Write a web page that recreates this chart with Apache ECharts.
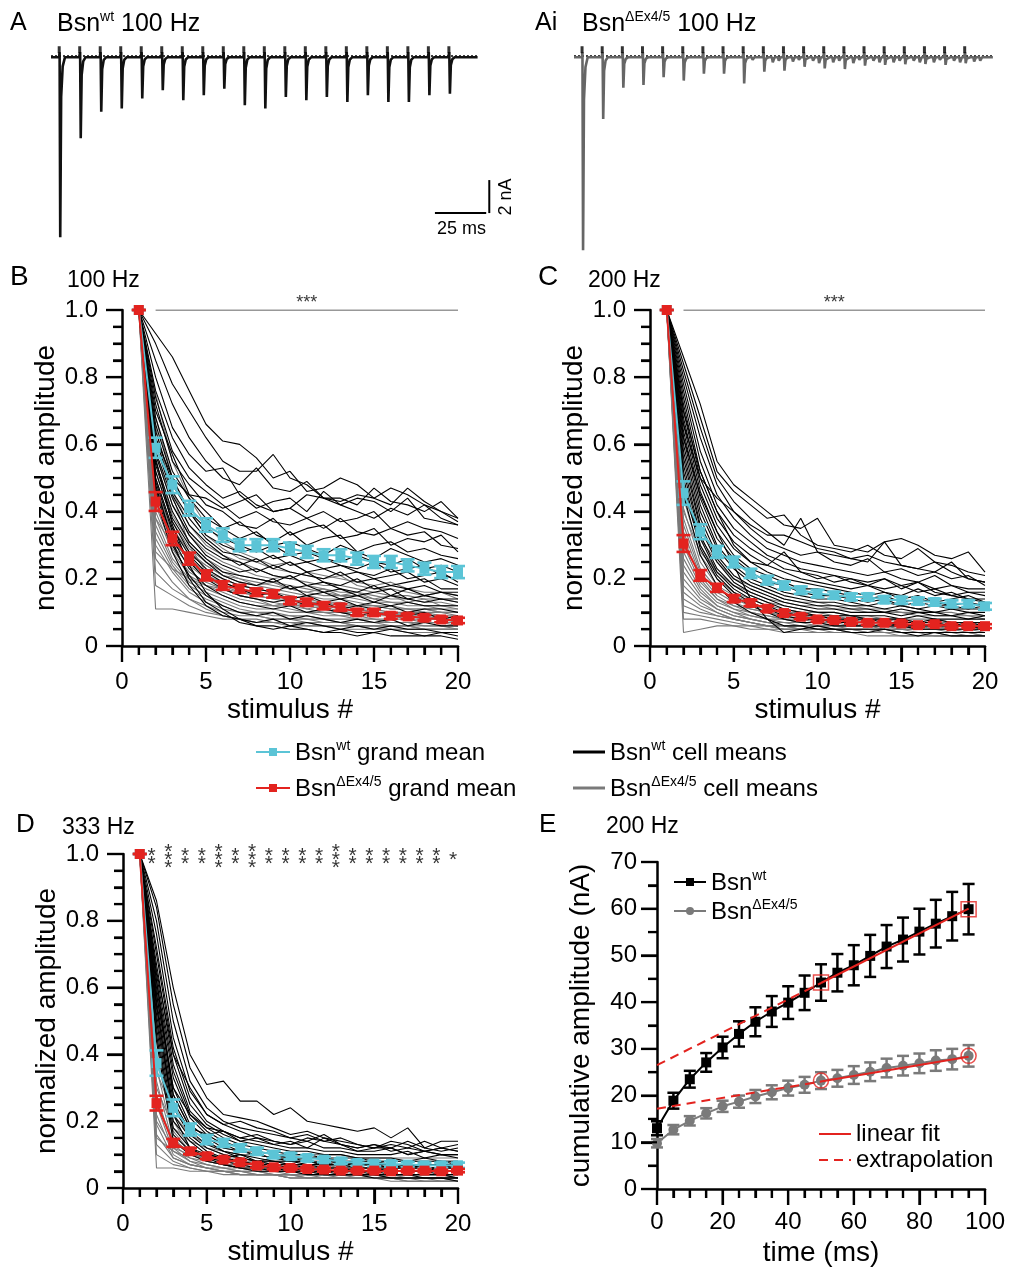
<!DOCTYPE html>
<html><head><meta charset="utf-8">
<script src="https://cdn.jsdelivr.net/npm/echarts@6/dist/echarts.min.js"></script>
<style>html,body{margin:0;padding:0;background:#fff}#c{width:1009px;height:1272px}</style>
</head><body><div id="c"></div>
<script>
// ---------------- DATA ----------------
const stimulus = [1,2,3,4,5,6,7,8,9,10,11,12,13,14,15,16,17,18,19,20];
const yTickLabels = ['0','0.2','0.4','0.6','0.8','1.0'];

// Panel A / Ai example traces (100 Hz): stimulus times (ms), EPSC amplitudes (nA)
const stimTimesMs = [0,10,20,30,40,50,60,70,80,90,100,110,120,130,140,150,160,170,180,190];
const ampA  = [10.9,4.9,3.3,3.1,2.5,2.0,2.6,2.3,1.9,2.9,3.1,2.4,2.6,2.4,2.7,2.3,2.7,2.7,2.3,2.2];
const ampAi = [11.7,3.74,1.84,1.68,1.21,1.41,0.99,0.99,1.58,0.87,0.81,0.57,0.67,0.71,0.5,0.46,0.42,0.4,0.46,0.36];
const asyncAi = [[0,0],[0,0],[0,0],[0,0],[0,0],[0,0],[0.1,0],[0,0.1],[0.15,0.1],[0.3,0.2],[0.25,0.15],[0.2,0.35],[0.3,0.2],[0.35,0.15],[0.2,0.3],[0.3,0.2],[0.2,0.3],[0.3,0.15],[0.2,0.3],[0.25,0.2]];
const scaleBarMs = 25, scaleBarNA = 2;

// Panel B (100 Hz) grand means
const meanB_wt = [1.00,0.59,0.48,0.41,0.36,0.33,0.30,0.30,0.30,0.29,0.28,0.27,0.27,0.26,0.25,0.25,0.24,0.23,0.22,0.22];
const semB_wt  = [0,0.03,0.025,0.022,0.02,0.02,0.018,0.018,0.018,0.018,0.018,0.018,0.018,0.018,0.018,0.018,0.018,0.018,0.018,0.018];
const meanB_ko = [1.00,0.43,0.32,0.26,0.21,0.18,0.17,0.16,0.155,0.135,0.13,0.12,0.115,0.10,0.10,0.09,0.088,0.084,0.079,0.076];
const semB_ko  = [0,0.028,0.02,0.018,0.015,0.013,0.012,0.011,0.011,0.01,0.01,0.01,0.01,0.009,0.009,0.009,0.008,0.008,0.008,0.008];
// Panel C (200 Hz)
const meanC_wt = [1.00,0.455,0.34,0.28,0.25,0.216,0.196,0.18,0.166,0.156,0.151,0.146,0.146,0.138,0.136,0.134,0.131,0.126,0.126,0.118];
const semC_wt  = [0,0.035,0.022,0.018,0.016,0.014,0.013,0.012,0.011,0.011,0.01,0.01,0.01,0.01,0.01,0.01,0.01,0.01,0.01,0.01];
const meanC_ko = [1.00,0.305,0.21,0.173,0.141,0.128,0.111,0.098,0.087,0.079,0.077,0.072,0.069,0.069,0.067,0.062,0.065,0.059,0.059,0.059];
const semC_ko  = [0,0.025,0.016,0.012,0.01,0.009,0.008,0.007,0.007,0.006,0.006,0.006,0.006,0.006,0.006,0.006,0.006,0.006,0.006,0.006];
// Panel D (333 Hz)
const meanD_wt = [1.00,0.374,0.24,0.175,0.145,0.135,0.12,0.11,0.10,0.095,0.09,0.085,0.08,0.075,0.073,0.072,0.07,0.068,0.068,0.068];
const semD_wt  = [0,0.038,0.025,0.018,0.014,0.012,0.011,0.01,0.01,0.009,0.009,0.008,0.008,0.008,0.008,0.008,0.008,0.008,0.008,0.008];
const meanD_ko = [1.00,0.254,0.135,0.11,0.095,0.085,0.077,0.067,0.062,0.06,0.057,0.055,0.052,0.052,0.052,0.05,0.052,0.052,0.05,0.052];
const semD_ko  = [0,0.022,0.012,0.009,0.008,0.007,0.006,0.006,0.006,0.006,0.006,0.006,0.005,0.005,0.005,0.005,0.005,0.005,0.005,0.005];

const sigBC = {from: 2, to: 20, mid: 11, text: '***'};
const starsD = ['**','***','**','**','***','**','***','**','**','**','**','***','**','**','**','**','**','**','*']; // stim 2..20

// Cell means (normalized amplitude x100)
const cellsB_wt = [
[100,93,86,76,66,61,60,56,50,52,46,47,50,48,44,47,45,42,40,38],
[100,90,78,70,62,55,52,52,57,50,48,44,43,45,44,42,47,43,40,37],
[100,85,72,62,55,50,48,53,47,46,49,44,44,42,47,43,42,40,43,38],
[100,80,65,57,52,53,45,41,43,44,40,46,42,40,38,41,39,42,38,36],
[100,76,62,53,48,44,46,42,40,41,38,40,37,38,40,35,37,35,34,32],
[100,74,58,50,46,42,38,40,37,36,38,35,38,34,33,35,33,34,30,29],
[100,72,55,48,42,40,36,35,38,33,35,36,32,33,35,30,32,31,33,28],
[100,70,57,45,40,35,37,33,31,34,30,32,33,28,30,31,28,29,27,26],
[100,68,52,44,38,35,32,34,30,31,29,27,30,28,26,29,27,25,26,24],
[100,66,50,40,35,32,30,28,30,27,28,26,25,27,25,24,26,23,24,22],
[100,64,48,40,33,30,28,29,26,27,25,26,24,23,25,22,23,24,21,20],
[100,62,46,38,32,28,27,25,27,24,25,23,24,22,21,23,20,21,22,19],
[100,60,45,36,31,27,24,26,23,25,22,23,21,22,20,21,22,19,20,18],
[100,58,44,34,29,26,25,22,24,22,21,20,22,19,20,18,19,20,17,17],
[100,57,42,33,27,24,22,23,21,20,22,19,18,20,17,18,17,18,16,16],
[100,55,40,31,26,22,21,20,19,21,18,19,17,16,18,15,17,15,16,15],
[100,54,38,30,25,21,19,18,20,17,18,16,17,15,16,17,14,15,14,14],
[100,52,37,28,23,20,18,17,16,18,15,16,14,15,13,15,14,13,14,13],
[100,50,35,27,22,19,17,15,16,14,15,13,14,12,13,12,13,12,12,12],
[100,49,34,25,20,17,15,14,13,14,12,13,11,12,11,12,10,11,11,10],
[100,47,32,23,18,15,13,12,11,12,10,11,10,9,10,9,9,10,8,9],
[100,46,30,21,15,12,10,9,10,8,9,8,7,8,7,8,6,7,6,6],
[100,44,28,18,12,9,8,7,8,6,7,6,5,6,5,6,5,5,4,4],
[100,48,31,20,13,10,7,6,5,6,5,4,5,4,4,5,4,3,4,3],
[100,56,36,24,16,11,8,6,6,5,5,4,4,3,4,3,3,3,3,2],
[100,62,50,45,44,41,43,45,40,41,45,44,42,44,43,40,44,38,37,36]
];
const cellsB_ko = [
[100,75,55,44,36,31,28,26,24,25,22,21,20,19,18,19,17,16,16,15],
[100,68,50,40,33,29,26,25,23,22,21,20,21,18,17,17,16,15,16,14],
[100,62,46,36,30,27,25,23,21,20,19,18,18,17,16,15,15,14,14,13],
[100,58,42,33,28,25,23,21,20,21,18,17,16,16,15,14,14,13,13,12],
[100,55,39,31,26,23,21,20,19,18,17,16,15,15,14,13,13,12,12,11],
[100,52,37,29,25,22,20,19,18,17,16,15,15,14,13,13,12,12,11,11],
[100,50,35,28,24,21,19,18,17,16,15,14,14,13,12,12,11,11,10,10],
[100,48,33,26,22,20,18,17,16,15,14,13,13,12,12,11,11,10,10,9],
[100,46,32,25,21,19,17,16,15,14,13,13,12,11,11,10,10,10,9,9],
[100,44,30,24,20,18,16,15,14,13,12,12,11,11,10,10,9,9,9,8],
[100,42,29,22,19,17,15,14,13,12,12,11,10,10,10,9,9,8,8,8],
[100,40,28,21,18,16,14,13,12,12,11,10,10,9,9,9,8,8,8,7],
[100,38,26,20,17,15,13,12,12,11,10,10,9,9,8,8,8,7,7,7],
[100,36,25,19,16,14,12,11,11,10,10,9,9,8,8,7,7,7,7,6],
[100,34,24,18,15,13,11,10,10,9,9,8,8,8,7,7,7,6,6,6],
[100,32,23,17,14,12,10,10,9,9,8,8,7,7,7,6,6,6,6,5],
[100,30,22,16,13,11,10,9,8,8,8,7,7,6,6,6,6,5,5,5],
[100,28,23,20,18,17,16,15,14,14,13,13,12,12,12,11,11,11,10,10],
[100,26,19,14,11,9,8,7,7,6,6,6,5,5,5,5,4,4,4,4],
[100,22,17,14,12,10,9,9,8,8,7,7,7,6,6,6,6,5,5,5],
[100,18,15,12,10,9,8,8,7,7,7,6,6,6,6,5,5,5,5,5],
[100,11,11,10,9,8,8,7,7,7,6,6,6,6,5,5,5,5,5,5],
[100,65,45,30,22,17,15,14,12,13,11,12,10,11,10,9,10,9,8,9],
[100,38,30,27,24,21,20,18,19,17,16,17,15,16,14,15,13,14,12,12]
];
const cellsC_wt = [
[100,86,72,55,48,44,40,36,35,38,30,29,28,31,32,30,27,26,28,22],
[100,84,68,52,46,42,38,39,33,30,29,28,30,27,26,29,25,24,22,21],
[100,82,65,50,43,38,34,30,38,28,27,26,25,31,24,23,22,25,20,19],
[100,80,62,48,40,35,31,29,27,28,25,24,26,22,23,21,22,20,21,18],
[100,78,58,45,38,33,29,27,25,24,23,22,21,22,20,19,21,18,17,17],
[100,76,55,42,35,31,27,25,23,22,21,20,19,20,18,19,17,18,16,16],
[100,74,52,40,33,29,26,23,22,21,19,20,18,17,18,16,17,15,16,15],
[100,72,50,38,31,27,24,22,20,19,18,17,18,16,15,17,15,16,14,14],
[100,70,48,36,29,25,22,20,19,18,17,16,15,16,14,15,13,14,15,13],
[100,68,46,34,27,23,21,19,17,17,16,15,14,15,13,14,13,12,13,12],
[100,66,44,32,26,22,19,18,16,15,15,14,13,14,12,13,12,12,11,12],
[100,64,42,30,24,20,18,16,15,14,14,13,12,13,12,11,12,11,11,11],
[100,62,40,29,23,19,17,15,14,13,13,12,12,11,12,11,10,11,10,10],
[100,60,38,27,21,18,16,14,13,12,12,11,11,10,11,10,10,9,10,9],
[100,58,36,26,20,17,15,13,12,11,11,10,10,10,9,10,9,9,8,9],
[100,56,35,25,19,16,14,12,11,10,10,9,9,9,8,9,8,8,8,8],
[100,54,33,23,18,15,13,11,10,9,9,9,8,8,8,7,8,7,7,7],
[100,52,32,22,17,14,12,10,9,9,8,8,8,7,7,7,7,6,7,6],
[100,50,30,21,16,13,11,9,8,8,7,7,7,7,6,6,6,6,6,5],
[100,48,29,20,15,12,10,8,7,7,6,6,6,6,6,5,5,5,5,5],
[100,45,27,18,13,10,8,6,6,5,5,5,5,5,4,4,4,4,4,4],
[100,62,45,34,24,14,8,4,5,6,5,4,4,5,4,3,4,3,3,3],
[100,70,52,40,30,25,24,28,22,20,21,19,18,20,17,19,16,15,14,13],
[100,66,50,44,40,36,33,33,31,29,28,26,27,25,24,23,25,22,20,19]
];
const cellsC_ko = [
[100,48,30,22,18,15,13,12,11,10,10,9,9,8,8,8,8,7,7,7],
[100,44,27,20,16,14,12,11,10,10,9,9,8,8,8,7,7,7,7,6],
[100,41,25,18,15,13,11,10,10,9,9,8,8,8,7,7,7,6,6,6],
[100,38,23,17,14,12,11,10,9,9,8,8,7,7,7,7,6,6,6,6],
[100,36,22,16,13,11,10,9,9,8,8,7,7,7,6,6,6,6,6,5],
[100,34,21,15,12,11,10,9,8,8,7,7,7,6,6,6,6,5,5,5],
[100,32,20,14,12,10,9,8,8,7,7,7,6,6,6,6,5,5,5,5],
[100,30,19,14,11,10,9,8,7,7,7,6,6,6,6,5,5,5,5,5],
[100,28,18,13,11,9,8,8,7,7,6,6,6,6,5,5,5,5,5,4],
[100,26,17,12,10,9,8,7,7,6,6,6,6,5,5,5,5,5,4,4],
[100,24,16,12,10,8,7,7,6,6,6,5,5,5,5,5,5,4,4,4],
[100,22,15,11,9,8,7,6,6,6,5,5,5,5,5,4,4,4,4,4],
[100,20,14,11,9,8,7,6,6,5,5,5,5,4,4,4,4,4,4,4],
[100,18,13,10,8,7,6,6,5,5,5,5,4,4,4,4,4,4,4,3],
[100,16,12,10,8,7,6,5,5,5,5,4,4,4,4,4,4,3,3,3],
[100,14,11,9,8,7,6,5,5,5,4,4,4,4,4,4,3,3,3,3],
[100,12,10,9,8,7,6,6,5,5,5,5,4,4,4,4,4,4,3,3],
[100,10,9,8,7,6,6,5,5,5,5,4,4,4,4,4,4,4,4,3],
[100,8,8,7,6,6,5,5,5,4,4,4,4,4,3,3,3,3,3,3],
[100,4,5,6,6,5,5,4,4,4,4,4,3,3,3,3,3,3,3,3],
[100,40,28,22,18,16,14,13,12,12,11,11,10,10,10,9,9,9,9,8],
[100,45,32,25,20,18,16,14,13,13,12,12,11,11,10,10,10,10,9,9]
];
const cellsD_wt = [
[100,86,60,40,31,32,26,26,22,24,20,19,18,17,18,15,18,12,14,14],
[100,84,55,36,27,22,21,20,18,16,17,15,14,13,12,13,12,14,12,13],
[100,80,50,32,24,20,18,17,16,15,14,16,13,12,13,11,12,11,12,11],
[100,76,45,29,22,19,17,15,14,13,14,12,12,11,11,12,10,11,10,10],
[100,72,42,27,20,17,15,14,13,12,12,11,11,10,10,10,11,9,10,9],
[100,70,40,25,19,16,14,13,12,11,11,10,10,9,9,9,8,9,8,8],
[100,67,37,23,18,15,13,12,11,10,10,9,9,9,8,8,8,8,8,7],
[100,64,35,22,17,14,12,11,10,9,9,9,8,8,8,7,7,7,7,7],
[100,62,33,21,16,13,11,10,9,9,8,8,8,7,7,7,7,6,6,6],
[100,60,30,19,15,12,11,10,9,8,8,7,7,7,7,6,6,6,6,6],
[100,58,28,18,14,11,10,9,8,8,7,7,7,6,6,6,6,6,5,5],
[100,56,26,17,13,11,9,8,8,7,7,6,6,6,6,5,5,5,5,5],
[100,54,24,16,12,10,9,8,7,7,6,6,6,5,5,5,5,5,4,4],
[100,52,22,15,11,9,8,7,7,6,6,5,5,5,5,4,4,4,4,4],
[100,50,20,14,10,9,8,7,6,6,5,5,5,5,4,4,4,4,4,3],
[100,48,18,12,9,8,7,6,6,5,5,5,4,4,4,4,4,3,3,3],
[100,46,16,11,9,7,6,6,5,5,5,4,4,4,4,3,3,3,3,3],
[100,44,14,10,8,7,6,5,5,5,4,4,4,4,3,3,3,3,3,2],
[100,58,30,22,18,17,15,16,14,13,15,14,13,12,13,12,14,12,11,12],
[100,65,40,30,22,19,20,18,17,15,16,14,15,13,12,14,13,11,12,11],
[100,55,22,12,10,9,10,8,9,8,8,7,8,7,7,6,7,6,6,7],
[100,62,28,18,16,17,14,15,13,14,12,15,13,11,12,12,10,11,10,10]
];
const cellsD_ko = [
[100,45,20,12,9,8,7,6,6,5,5,5,5,4,4,4,4,4,4,3],
[100,40,17,11,8,7,6,6,5,5,5,4,4,4,4,4,3,3,3,3],
[100,36,15,10,8,7,6,5,5,5,4,4,4,4,4,3,3,3,3,3],
[100,32,13,9,7,6,6,5,5,4,4,4,4,4,3,3,3,3,3,3],
[100,28,12,8,7,6,5,5,4,4,4,4,4,3,3,3,3,3,3,3],
[100,25,11,8,6,6,5,5,4,4,4,4,3,3,3,3,3,3,3,2],
[100,22,10,7,6,5,5,4,4,4,4,3,3,3,3,3,3,3,2,2],
[100,19,9,7,6,5,5,4,4,4,3,3,3,3,3,3,3,2,2,2],
[100,16,9,7,6,5,4,4,4,4,3,3,3,3,3,3,2,2,2,2],
[100,13,8,6,5,5,4,4,4,3,3,3,3,3,3,2,2,2,2,2],
[100,10,7,6,5,5,4,4,4,3,3,3,3,3,3,3,2,2,2,2],
[100,6,6,5,5,4,4,4,4,3,3,3,3,3,3,3,3,3,3,3],
[100,30,18,14,12,11,10,10,9,9,9,9,8,8,8,8,8,8,8,8],
[100,35,22,16,13,12,11,11,10,10,10,10,10,9,9,9,9,9,9,9],
[100,26,14,11,10,9,9,8,8,8,8,7,7,7,7,7,7,7,7,7],
[100,50,25,16,12,10,9,8,8,7,7,7,6,6,6,6,6,6,6,6],
[100,20,12,10,9,8,8,8,7,7,7,7,7,6,6,6,6,6,6,6],
[100,15,11,9,8,7,7,7,6,6,6,6,6,5,5,5,5,5,5,5]
];

// Panel E (200 Hz) cumulative amplitude
const timesE = [0,5,10,15,20,25,30,35,40,45,50,55,60,65,70,75,80,85,90,95];
const cumWt = [13.0,18.9,23.5,27.1,30.3,33.2,35.8,38.0,39.9,42.0,44.2,46.3,47.9,49.9,51.9,53.4,55.1,56.8,58.4,59.9];
const semCumWt = [1.5,1.7,1.8,2.0,2.3,2.7,3.1,3.3,3.5,3.7,3.9,4.0,4.3,4.5,4.6,4.7,4.9,5.1,5.2,5.4];
const cumKo = [9.8,12.7,14.6,16.2,17.7,18.7,19.8,20.7,21.6,22.3,23.2,23.7,24.4,25.1,25.9,26.4,26.9,27.5,27.8,28.5];
const semCumKo = [0.9,1.0,1.0,1.1,1.2,1.3,1.4,1.5,1.6,1.7,1.8,1.8,1.9,2.0,2.0,2.1,2.1,2.2,2.2,2.3];
const fitTimes = [0,50,95];
const fitWt = [26.5,44.1,60.0];
const fitKo = [17.2,23.0,28.3];

// ---------------- STYLE ----------------
const F = '"Liberation Sans", Arial, Helvetica, sans-serif';
const BLUE = '#5BC4D6', RED = '#E3231F', GRAY = '#7a7a7a';

const chart = echarts.init(document.getElementById('c'), null, {renderer:'canvas'});

const grids = [
  {left:51, top:40, width:443, height:212},   // A
  {left:574, top:40, width:443, height:212},  // Ai
  {left:122, top:310, width:336, height:336}, // B
  {left:650, top:310, width:335, height:336}, // C
  {left:123, top:854, width:335, height:334}, // D
  {left:657, top:862, width:328, height:327}  // E
];

const axisBase = {
  axisLine:{show:true, onZero:false, lineStyle:{color:'#000', width:2.5}},
  axisTick:{show:true, inside:false, length:16, lineStyle:{color:'#000', width:2.2}},
  splitLine:{show:false}, minorSplitLine:{show:false},
  nameLocation:'middle',
  nameTextStyle:{fontSize:28, color:'#000', fontFamily:F}
};
function minor(n){ return {show:true, splitNumber:n, length:9, lineStyle:{color:'#000', width:2.2}}; }
function normX(gi){ return Object.assign({}, axisBase, {gridIndex:gi, type:'value', min:0, max:20, interval:5,
  minorTick:minor(5),
  axisLabel:{show:true, fontSize:24, margin:24, color:'#000', fontFamily:F}, name:'stimulus #', nameGap:50}); }
function normY(gi){ return Object.assign({}, axisBase, {gridIndex:gi, type:'value', min:0, max:1, interval:0.2,
  minorTick:minor(4),
  axisLabel:{show:true, fontSize:24, margin:24, color:'#000', fontFamily:F, formatter:(v)=>yTickLabels[Math.round(v*5)]},
  name:'normalized amplitude', nameGap:62}); }

const xAxis = [
  {gridIndex:0, type:'value', min:-4, max:212, show:false},
  {gridIndex:1, type:'value', min:-4, max:212, show:false},
  normX(2), normX(3), normX(4),
  Object.assign({}, axisBase, {gridIndex:5, type:'value', min:0, max:100, interval:20,
    minorTick:minor(4),
    axisLabel:{show:true, fontSize:24, margin:21, color:'#000', fontFamily:F}, name:'time (ms)', nameGap:50})
];
const yAxis = [
  {gridIndex:0, type:'value', min:-11.8, max:1.05, show:false},
  {gridIndex:1, type:'value', min:-11.8, max:1.05, show:false},
  normY(2), normY(3), normY(4),
  Object.assign({}, axisBase, {gridIndex:5, type:'value', min:0, max:70, interval:10,
    minorTick:minor(2),
    axisLabel:{show:true, fontSize:24, margin:20, color:'#000', fontFamily:F}, name:'cumulative amplitude (nA)', nameGap:62})
];

const series = [];

// ---- axis tick marks (drawn through the axis scales, matching major/minor ticks) ----
function tickSeries(gi, dir, min, max, step, majorEvery, origin){
  const data = [];
  for (let k = 0; min + k*step <= max + 1e-9; k++){
    const v = +(min + k*step).toFixed(6);
    data.push(dir==='y' ? [origin, v, k%majorEvery===0?1:0] : [v, origin, k%majorEvery===0?1:0]);
  }
  series.push({type:'custom', xAxisIndex:gi, yAxisIndex:gi, data, encode:{x:0, y:1}, clip:false, silent:true, z:20,
    renderItem:(p, api)=>{
      const c = api.coord([api.value(0), api.value(1)]);
      const len = api.value(2) ? 16 : 9;
      const shape = dir==='y' ? {x1:c[0]-len, y1:c[1], x2:c[0], y2:c[1]} : {x1:c[0], y1:c[1], x2:c[0], y2:c[1]+len};
      return {type:'line', shape, style:{stroke:'#000', lineWidth:2.2}};
    }});
}
[2,3,4].forEach(gi=>{ tickSeries(gi,'y',0,1,0.05,4,0); tickSeries(gi,'x',0,20,1,5,0); });
tickSeries(5,'y',0,70,5,2,0); tickSeries(5,'x',0,100,5,4,0);

// ---- traces ----
function buildTrace(amps, asyncAmps){
  const pts = [[-4,0]];
  amps.forEach((a,i)=>{
    const t = stimTimesMs[i];
    pts.push([t-0.1,0],[t+0.2,0.3],[t+0.5,-a],[t+0.95,-a*0.22],[t+1.7,-a*0.05],[t+2.8,0]);
    if (asyncAmps){
      const e = asyncAmps[i];
      if (e[0]) pts.push([t+4.3,0],[t+4.7,-e[0]],[t+5.6,0]);
      if (e[1]) pts.push([t+7.3,0],[t+7.7,-e[1]],[t+8.6,0]);
    }
    pts.push([t+9.7,0]);
  });
  pts.push([204,0]);
  return pts;
}
[[0, ampA, null, '#111'], [1, ampAi, asyncAi, '#666']].forEach(([gi, amps, asy, col])=>{
  series.push({type:'line', xAxisIndex:gi, yAxisIndex:gi, data:[[-4,0.08],[204,0.08]], symbol:'none',
    lineStyle:{color:'#000', width:1.5, type:[2,2]}, silent:true, z:1});
  series.push({type:'line', xAxisIndex:gi, yAxisIndex:gi, data:buildTrace(amps, asy), symbol:'none',
    lineStyle:{color:col, width:2.6}, silent:true, z:2});
  series.push({type:'scatter', xAxisIndex:gi, yAxisIndex:gi, data:stimTimesMs.map(t=>[t,0.46]),
    symbol:'rect', symbolSize:[3,7], itemStyle:{color:'#000'}, silent:true, z:3});
});
// scale bar (panel A)
const sbX = 208.2, sbY = -9.44;
series.push({type:'line', xAxisIndex:0, yAxisIndex:0, data:[[sbX-scaleBarMs,sbY],[sbX,sbY]], symbol:'none',
  lineStyle:{color:'#000', width:2}, silent:true});
series.push({type:'line', xAxisIndex:0, yAxisIndex:0, data:[[sbX+1.5,sbY],[sbX+1.5,sbY+scaleBarNA]], symbol:'none',
  lineStyle:{color:'#000', width:2}, silent:true});

// ---- normalized panels ----
function errRender(capW, color, lw){
  return function(params, api){
    const x = api.value(0), lo = api.value(1), hi = api.value(2);
    const p1 = api.coord([x, lo]), p2 = api.coord([x, hi]);
    const h = capW/2;
    const st = {stroke:color, lineWidth:lw};
    return {type:'group', children:[
      {type:'line', shape:{x1:p1[0], y1:p1[1], x2:p2[0], y2:p2[1]}, style:st},
      {type:'line', shape:{x1:p1[0]-h, y1:p1[1], x2:p1[0]+h, y2:p1[1]}, style:st},
      {type:'line', shape:{x1:p2[0]-h, y1:p2[1], x2:p2[0]+h, y2:p2[1]}, style:st}
    ]};
  };
}
function cellSeries(arr, gi, color, name, z){
  arr.forEach(v=>series.push({type:'line', name, xAxisIndex:gi, yAxisIndex:gi,
    data:v.map((y,i)=>[stimulus[i], y/100]), symbol:'none', lineStyle:{color, width:1.1},
    itemStyle:{color}, z, silent:true}));
}
function meanSeries(mean, sem, gi, color, name, z){
  series.push({type:'custom', xAxisIndex:gi, yAxisIndex:gi, renderItem:errRender(14, color, 2.6),
    data:mean.map((m,i)=>[stimulus[i], m-sem[i], m+sem[i]]), encode:{x:0, y:[1,2]}, z, silent:true, clip:false});
  series.push({type:'line', name, xAxisIndex:gi, yAxisIndex:gi, data:mean.map((m,i)=>[stimulus[i], m]),
    symbol:'rect', symbolSize:10, showSymbol:true, showAllSymbol:true, lineStyle:{color, width:2},
    itemStyle:{color}, z:z+1, silent:true, clip:false});
}
function sigLine(gi){
  series.push({type:'line', xAxisIndex:gi, yAxisIndex:gi, data:[[sigBC.from,1],[sigBC.to,1]], symbol:'none',
    lineStyle:{color:'#333', width:1.2}, silent:true, z:1});
  series.push({type:'scatter', xAxisIndex:gi, yAxisIndex:gi, data:[[sigBC.mid,1]], symbol:'circle', symbolSize:1,
    itemStyle:{color:'transparent'}, silent:true,
    label:{show:true, position:'top', distance:-3, formatter:sigBC.text, fontSize:18, color:'#000', fontFamily:F}});
}
[[2, cellsB_wt, cellsB_ko, meanB_wt, semB_wt, meanB_ko, semB_ko],
 [3, cellsC_wt, cellsC_ko, meanC_wt, semC_wt, meanC_ko, semC_ko],
 [4, cellsD_wt, cellsD_ko, meanD_wt, semD_wt, meanD_ko, semD_ko]].forEach(p=>{
  const gi = p[0];
  cellSeries(p[2], gi, GRAY, 'cmKo', 2);
  cellSeries(p[1], gi, '#000', 'cmWt', 3);
  meanSeries(p[3], p[4], gi, BLUE, 'gmWt', 5);
  meanSeries(p[5], p[6], gi, RED, 'gmKo', 7);
  if (gi !== 4) sigLine(gi);
});
// stars in D
series.push({type:'scatter', xAxisIndex:4, yAxisIndex:4, data:stimulus.slice(1).map(x=>[x,1]),
  symbol:'circle', symbolSize:1, itemStyle:{color:'transparent'}, silent:true, z:9,
  label:{show:true, position:'inside', offset:[-5,6], fontSize:21, lineHeight:8, color:'#000', fontFamily:F,
    formatter:(p)=>starsD[p.dataIndex].split('').join('\n')}});

// ---- panel E ----
function eSeries(cum, sem, color, sym, name){
  series.push({type:'custom', xAxisIndex:5, yAxisIndex:5, renderItem:errRender(12, color, 2.5),
    data:cum.map((m,i)=>[timesE[i], m-sem[i], m+sem[i]]), encode:{x:0, y:[1,2]}, z:3, silent:true, clip:false});
  series.push({type:'line', name, xAxisIndex:5, yAxisIndex:5, data:cum.map((m,i)=>[timesE[i], m]),
    symbol:sym, symbolSize:10, showAllSymbol:true, lineStyle:{color, width:2}, itemStyle:{color}, z:4, silent:true, clip:false});
}
eSeries(cumKo, semCumKo, GRAY, 'circle', 'eKo');
eSeries(cumWt, semCumWt, '#000', 'rect', 'eWt');
[fitWt, fitKo].forEach(f=>{
  series.push({type:'line', name:'extrapolation', xAxisIndex:5, yAxisIndex:5, data:[[fitTimes[0],f[0]],[fitTimes[1],f[1]]],
    symbol:'none', lineStyle:{color:RED, width:2, type:[9,6]}, itemStyle:{color:RED}, z:5, silent:true});
  series.push({type:'line', name:'linear fit', xAxisIndex:5, yAxisIndex:5, data:[[fitTimes[1],f[1]],[fitTimes[2],f[2]]],
    symbol:'none', lineStyle:{color:RED, width:2}, itemStyle:{color:RED}, z:5, silent:true});
});
const fitIdx = [timesE.indexOf(fitTimes[1]), timesE.indexOf(fitTimes[2])];
series.push({type:'scatter', xAxisIndex:5, yAxisIndex:5, data:fitIdx.map(i=>[timesE[i], cumWt[i]]), symbol:'rect', symbolSize:15,
  itemStyle:{color:'transparent', borderColor:RED, borderWidth:1.5}, z:6, silent:true});
series.push({type:'scatter', xAxisIndex:5, yAxisIndex:5, data:fitIdx.map(i=>[timesE[i], cumKo[i]]), symbol:'circle', symbolSize:15,
  itemStyle:{color:'transparent', borderColor:RED, borderWidth:1.5}, z:6, silent:true});

// ---- legends ----
const richLeg = {
  n:{fontSize:24, fontFamily:F, color:'#000', lineHeight:26, verticalAlign:'bottom'},
  s:{fontSize:14, fontFamily:F, color:'#000', lineHeight:12, verticalAlign:'top'}
};
const legendLabels = {
  gmWt:'{n|Bsn}{s|wt}{n| grand mean}', gmKo:'{n|Bsn}{s|ΔEx4/5}{n| grand mean}',
  cmWt:'{n|Bsn}{s|wt}{n| cell means}', cmKo:'{n|Bsn}{s|ΔEx4/5}{n| cell means}',
  eWt:'{n|Bsn}{s|wt}', eKo:'{n|Bsn}{s|ΔEx4/5}'
};
const legBase = {orient:'vertical', selectedMode:false, itemWidth:34, itemHeight:10, itemGap:10,
  formatter:(n)=>legendLabels[n] || n, textStyle:{fontSize:24, fontFamily:F, color:'#000', rich:richLeg}};
const legend = [
  Object.assign({}, legBase, {left:250, top:734, data:['gmWt','gmKo']}),
  Object.assign({}, legBase, {left:568, top:734, itemWidth:32, data:[{name:'cmWt', icon:'rect'},{name:'cmKo', icon:'rect'}], itemHeight:3}),
  Object.assign({}, legBase, {left:668, top:864, itemWidth:32, itemGap:3, data:['eWt','eKo']}),
  Object.assign({}, legBase, {left:813, top:1117, itemWidth:32, itemGap:2, itemStyle:{opacity:0},
    data:['linear fit','extrapolation']})
];

// ---- panel letters / titles ----
function rt(text, size){ return {
  text, rich:{
    n:{fontSize:size, fontFamily:F, fill:'#000', lineHeight:size+2, verticalAlign:'bottom'},
    s:{fontSize:Math.round(size*0.58), fontFamily:F, fill:'#000', lineHeight:Math.round(size*0.5), verticalAlign:'top'}
  }}; }
const graphic = [
  {type:'text', left:10, top:11, style:{text:'A', font:`25px ${F}`, fill:'#000'}},
  {type:'text', left:57, top:10, style:rt('{n|Bsn}{s|wt}{n| 100 Hz}', 25)},
  {type:'text', left:535, top:11, style:{text:'Ai', font:`25px ${F}`, fill:'#000'}},
  {type:'text', left:582, top:10, style:rt('{n|Bsn}{s|ΔEx4/5}{n| 100 Hz}', 25)},
  {type:'text', left:10, top:263, style:{text:'B', font:`28px ${F}`, fill:'#000'}},
  {type:'text', left:67, top:269, style:{text:'100 Hz', font:`23px ${F}`, fill:'#000'}},
  {type:'text', left:538, top:263, style:{text:'C', font:`28px ${F}`, fill:'#000'}},
  {type:'text', left:588, top:269, style:{text:'200 Hz', font:`23px ${F}`, fill:'#000'}},
  {type:'text', left:16, top:812, style:{text:'D', font:`26px ${F}`, fill:'#000'}},
  {type:'text', left:62, top:816, style:{text:'333 Hz', font:`23px ${F}`, fill:'#000'}},
  {type:'text', left:539, top:812, style:{text:'E', font:`26px ${F}`, fill:'#000'}},
  {type:'text', left:606, top:815, style:{text:'200 Hz', font:`23px ${F}`, fill:'#000'}},
  {type:'text', left:437, top:220, style:{text:'25 ms', font:`18px ${F}`, fill:'#000'}},
  {type:'text', x:506, y:197, rotation:Math.PI/2, style:{text:'2 nA', font:`18px ${F}`, fill:'#000', align:'center', verticalAlign:'middle'}}
];

chart.setOption({
  animation:false,
  backgroundColor:'#fff',
  textStyle:{fontFamily:F},
  grid:grids, xAxis, yAxis, series, legend, graphic
});
</script></body></html>
